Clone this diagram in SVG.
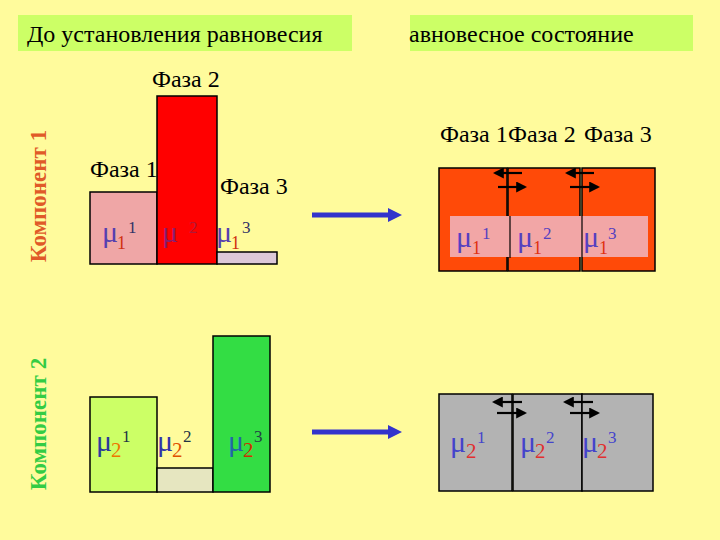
<svg xmlns="http://www.w3.org/2000/svg" width="720" height="540" viewBox="0 0 720 540" font-family="'Liberation Serif', 'DejaVu Serif', serif">
<defs>
<style>
text{font-family:'Liberation Serif','DejaVu Serif',serif;}
.t{font-size:24px;fill:#000;}
.box{stroke:#000;stroke-width:1.5;}
.mu{font-size:30px;}
.sb{font-size:18px;}
.sp{font-size:17px;}
.sb2{font-size:21px;}
.comp{font-size:23px;font-weight:bold;}
.blue{stroke:#3333CC;stroke-width:5;fill:none;}
.blk{stroke:#000;stroke-width:2.2;fill:none;marker-end:url(#ah);}
</style>
<marker id="ah" markerWidth="5" markerHeight="5" refX="4" refY="2.5" orient="auto" markerUnits="strokeWidth">
<path d="M0,0 L5,2.5 L0,5 z" fill="#000"/>
</marker>
</defs>
<rect width="720" height="540" fill="#FFFB9C"/>

<g id="title-left">
<rect x="18" y="15" width="334" height="36" fill="#CCFF66"/>
<text class="t" x="27" y="42">До установления равновесия</text>
</g>
<g id="title-right">
<rect x="410" y="15" width="283" height="36" fill="#CCFF66"/>
<text class="t" x="409" y="42">авновесное состояние</text>
</g>

<g id="label-comp1">
<text class="comp" fill="#E05A28" transform="translate(46,196) rotate(-90)" text-anchor="middle">Компонент 1</text>
</g>
<g id="label-comp2">
<text class="comp" fill="#33CC44" transform="translate(46,424) rotate(-90)" text-anchor="middle">Компонент 2</text>
</g>

<g id="c1-phase1">
<rect class="box" x="90" y="192" width="67" height="72" fill="#EFA6A6"/>
<text class="t" x="90" y="177">Фаза 1</text>
<text class="mu" x="102" y="242" fill="#5540B0">μ</text>
<text class="sb" x="117" y="249" fill="#D03010">1</text>
<text class="sp" x="128" y="233" fill="#333366">1</text>
</g>
<g id="c1-phase2">
<rect class="box" x="157" y="96" width="60" height="168" fill="#FF0000"/>
<text class="t" x="152" y="87">Фаза 2</text>
<text class="mu" x="162" y="242" fill="#8A1E70">μ</text>
<text class="sb" x="177" y="249" fill="#FF0000">1</text>
<text class="sp" x="189" y="233" fill="#B01838">2</text>
</g>
<g id="c1-phase3">
<rect class="box" x="217" y="252" width="60" height="12" fill="#DCC8D8"/>
<text class="t" x="220" y="194">Фаза 3</text>
<text class="mu" x="216" y="242" fill="#5540B0">μ</text>
<text class="sb" x="231" y="249" fill="#D03010">1</text>
<text class="sp" x="242" y="233" fill="#333366">3</text>
</g>

<g id="c2-phase1">
<rect class="box" x="90" y="397" width="67" height="95" fill="#CCFF66"/>
<text class="mu" x="96" y="451" fill="#2A3A9A">μ</text>
<text class="sb2" x="111" y="457" fill="#EE7700">2</text>
<text class="sp" x="122" y="442" fill="#223344">1</text>
</g>
<g id="c2-phase2">
<rect class="box" x="157" y="468" width="56" height="24" fill="#E6E6C0"/>
<text class="mu" x="157" y="451" fill="#3333AA">μ</text>
<text class="sb2" x="172" y="457" fill="#E05000">2</text>
<text class="sp" x="183" y="442" fill="#223344">2</text>
</g>
<g id="c2-phase3">
<rect class="box" x="213" y="336" width="57" height="156" fill="#33DD44"/>
<text class="mu" x="228" y="451" fill="#2266AA">μ</text>
<text class="sb2" x="243" y="457" fill="#CC3300">2</text>
<text class="sp" x="254" y="442" fill="#224444">3</text>
</g>

<g id="eq-headers">
<text class="t" x="440" y="142">Фаза 1</text>
<text class="t" x="508" y="142">Фаза 2</text>
<text class="t" x="584" y="142">Фаза 3</text>
</g>
<g id="eq-c1">
<rect class="box" x="439" y="168" width="68" height="103" fill="#FF4A08"/>
<rect class="box" x="508" y="168" width="72" height="103" fill="#FF4A08"/>
<rect class="box" x="582" y="168" width="73" height="103" fill="#FF4A08"/>
<rect x="450" y="216" width="198" height="41" fill="#F2A6A6"/>
<line x1="510" y1="216" x2="510" y2="258" stroke="#000" stroke-width="1.2"/>
<line x1="582" y1="216" x2="582" y2="257" stroke="#000" stroke-width="1.2"/>
<text class="mu" x="456" y="247" fill="#5540C0">μ</text>
<text class="sb" x="472" y="254" fill="#E03010">1</text>
<text class="sp" x="482" y="239" fill="#5540C0">1</text>
<text class="mu" x="517" y="247" fill="#5540C0">μ</text>
<text class="sb" x="533" y="254" fill="#E03010">1</text>
<text class="sp" x="543" y="239" fill="#5540C0">2</text>
<text class="mu" x="583" y="247" fill="#5540C0">μ</text>
<text class="sb" x="599" y="254" fill="#E03010">1</text>
<text class="sp" x="608" y="239" fill="#5540C0">3</text>
</g>

<g id="eq-c2">
<rect class="box" x="439" y="394" width="73" height="97" fill="#B3B3B3"/>
<rect class="box" x="513" y="394" width="69" height="97" fill="#B3B3B3"/>
<rect class="box" x="582" y="394" width="71" height="97" fill="#B3B3B3"/>
<text class="mu" x="450" y="452" fill="#4444CC">μ</text>
<text class="sb2" x="466" y="458" fill="#E03030">2</text>
<text class="sp" x="477" y="443" fill="#4444CC">1</text>
<text class="mu" x="520" y="452" fill="#4444CC">μ</text>
<text class="sb2" x="535" y="458" fill="#E03030">2</text>
<text class="sp" x="546" y="443" fill="#4444CC">2</text>
<text class="mu" x="582" y="452" fill="#4444CC">μ</text>
<text class="sb2" x="597" y="458" fill="#E03030">2</text>
<text class="sp" x="608" y="443" fill="#4444CC">3</text>
</g>

<g id="connectors">
<line class="blue" x1="312" y1="215" x2="390" y2="215"/>
<path d="M388,208 L402,215 L388,222 z" fill="#3333CC"/>
<line class="blue" x1="312" y1="432" x2="390" y2="432"/>
<path d="M388,425 L402,432 L388,439 z" fill="#3333CC"/>
<line class="blk" x1="522" y1="173" x2="495" y2="173"/>
<line class="blk" x1="498" y1="187" x2="525" y2="187"/>
<line class="blk" x1="594" y1="173" x2="567" y2="173"/>
<line class="blk" x1="570" y1="187" x2="598" y2="187"/>
<line class="blk" x1="522" y1="402" x2="494" y2="402"/>
<line class="blk" x1="497" y1="413" x2="525" y2="413"/>
<line class="blk" x1="593" y1="402" x2="565" y2="402"/>
<line class="blk" x1="570" y1="413" x2="598" y2="413"/>
</g>
</svg>
